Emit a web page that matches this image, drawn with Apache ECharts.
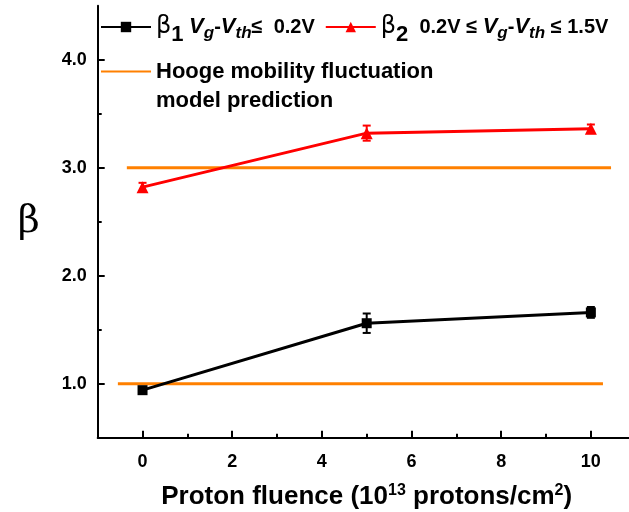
<!DOCTYPE html>
<html>
<head>
<meta charset="utf-8">
<script src="https://cdn.jsdelivr.net/npm/echarts@6/dist/echarts.min.js"></script>
<style>
  html, body { margin: 0; padding: 0; background: #fff; }
  #chart { width: 629px; height: 512px; }
</style>
</head>
<body>
<div id="chart"></div>
<script>
// proton fluence, 10^13 protons/cm^2
const fluence = [0, 5, 10];
// beta1: Vg-Vth <= 0.2V
const beta1 = [0.94, 1.56, 1.66];
const beta1Err = [0.02, 0.09, 0.05];
// beta2: 0.2V <= Vg-Vth <= 1.5V
const beta2 = [2.82, 3.32, 3.36];
const beta2Err = [0.04, 0.07, 0.04];
// Hooge mobility fluctuation model prediction (level, from, to)
const hoogeLow = [1.0, -0.55, 10.27];
const hoogeHigh = [3.0, -0.35, 10.45];
const yTicks = [1, 2, 3, 4];
const yMinorTicks = [1.5, 2.5, 3.5];
const xTicks = [0, 2, 4, 6, 8, 10];
const xMinorTicks = [1, 3, 5, 7, 9];

const font = 'Liberation Sans';
const chart = echarts.init(document.getElementById('chart'));

function pairs(xs, ys) {
  return xs.map((x, i) => [x, ys[i]]);
}
function errData(xs, ys, es) {
  return xs.map((x, i) => [x, ys[i] - es[i], ys[i] + es[i]]);
}
function errBars(color) {
  return function(params, api) {
    const lo = api.coord([api.value(0), api.value(1)]);
    const hi = api.coord([api.value(0), api.value(2)]);
    const w = 4;
    const style = { stroke: color, lineWidth: 2 };
    return {
      type: 'group',
      children: [
        { type: 'line', shape: { x1: lo[0], y1: lo[1], x2: hi[0], y2: hi[1] }, style: style },
        { type: 'line', shape: { x1: lo[0] - w, y1: lo[1], x2: lo[0] + w, y2: lo[1] }, style: style },
        { type: 'line', shape: { x1: hi[0] - w, y1: hi[1], x2: hi[0] + w, y2: hi[1] }, style: style }
      ]
    };
  };
}

const legendRich = {
  g: { fontFamily: 'DejaVu Sans', fontSize: 24, fontWeight: 'normal', color: '#000' },
  s: { fontFamily: font, fontSize: 22, fontWeight: 'bold', color: '#000', padding: [16, 0, 0, 0] },
  i: { fontFamily: font, fontSize: 22, fontWeight: 'bold', fontStyle: 'italic', color: '#000' },
  is: { fontFamily: font, fontSize: 17, fontWeight: 'bold', fontStyle: 'italic', color: '#000', padding: [12, 0, 0, 0] },
  b: { fontFamily: font, fontSize: 20, fontWeight: 'bold', color: '#000' }
};
const legendText = {
  b1: '{g|β}{s|1} {i|V}{is|g}{b|-}{i|V}{is|th}{b|≤  0.2V}',
  b2: '{g|β}{s|2}  {b|0.2V ≤ }{i|V}{is|g}{b|-}{i|V}{is|th}{b| ≤ 1.5V}',
  hooge: '\nHooge mobility fluctuation\nmodel prediction'
};

chart.setOption({
  animation: false,
  backgroundColor: '#fff',
  grid: { left: 97.7, top: 5.7, bottom: 74.3, right: -6.7, outerBoundsMode: 'none' },
  legend: [
    {
      data: ['b1', 'b2'],
      left: 100, top: 15, padding: 0,
      itemWidth: 50, itemHeight: 13, itemGap: 10,
      formatter: n => legendText[n],
      textStyle: { fontFamily: font, fontSize: 20, fontWeight: 'bold', color: '#000', rich: legendRich }
    },
    {
      data: ['hooge'],
      left: 100, top: 28, padding: 0,
      itemWidth: 50, itemHeight: 12,
      itemStyle: { color: 'rgba(0,0,0,0)', borderWidth: 0 },
      formatter: n => legendText[n],
      textStyle: { fontFamily: font, fontSize: 22, fontWeight: 'bold', color: '#000', lineHeight: 29 }
    }
  ],
  xAxis: [
    {
      type: 'value', min: -1, max: 11,
      name: 'Proton fluence (10{sup|13} protons/cm{sup|2})',
      nameLocation: 'middle', nameGap: 45,
      nameTextStyle: {
        fontFamily: font, fontSize: 26, fontWeight: 'bold', color: '#000',
        rich: { sup: { fontFamily: font, fontSize: 16, fontWeight: 'bold', color: '#000', padding: [0, 0, 13, 0] } }
      },
      axisLine: { onZero: false, lineStyle: { color: '#000', width: 2 } },
      axisTick: { customValues: xTicks, inside: true, length: 7, lineStyle: { color: '#000', width: 2 } },
      axisLabel: { customValues: xTicks, margin: 15, fontFamily: font, fontSize: 18, fontWeight: 'bold', color: '#000' },
      splitLine: { show: false }
    },
    {
      type: 'value', min: -1, max: 11, position: 'bottom',
      axisLine: { show: false, onZero: false },
      axisTick: { customValues: xMinorTicks, inside: true, length: 4, lineStyle: { color: '#000', width: 2 } },
      axisLabel: { show: false },
      splitLine: { show: false }
    }
  ],
  yAxis: [
    {
      type: 'value', min: 0.5, max: 4.5,
      name: 'β', nameLocation: 'middle', nameGap: 58, nameRotate: 0,
      nameTextStyle: { fontFamily: 'DejaVu Serif', fontSize: 38, color: '#000' },
      axisLine: { show: true, onZero: false, lineStyle: { color: '#000', width: 2 } },
      axisTick: { show: true, customValues: yTicks, inside: true, length: 7, lineStyle: { color: '#000', width: 2 } },
      axisLabel: {
        customValues: yTicks, margin: 11,
        formatter: v => v.toFixed(1),
        fontFamily: font, fontSize: 18, fontWeight: 'bold', color: '#000'
      },
      splitLine: { show: false }
    },
    {
      type: 'value', min: 0.5, max: 4.5, position: 'left',
      axisLine: { show: false, onZero: false },
      axisTick: { show: true, customValues: yMinorTicks, inside: true, length: 4, lineStyle: { color: '#000', width: 2 } },
      axisLabel: { show: false },
      splitLine: { show: false }
    }
  ],
  series: [
    {
      name: 'hooge', type: 'line', symbol: 'none', color: '#ff8000',
      lineStyle: { width: 3, color: '#ff8000' },
      data: [[hoogeLow[1], hoogeLow[0]], [hoogeLow[2], hoogeLow[0]]]
    },
    {
      name: 'hooge', type: 'line', symbol: 'none', color: '#ff8000',
      lineStyle: { width: 3, color: '#ff8000' },
      data: [[hoogeHigh[1], hoogeHigh[0]], [hoogeHigh[2], hoogeHigh[0]]]
    },
    {
      name: 'b1', type: 'line', color: '#000',
      symbol: 'rect', symbolSize: 10,
      lineStyle: { width: 3, color: '#000' },
      itemStyle: { color: '#000' },
      data: pairs(fluence, beta1), z: 3
    },
    {
      name: 'b2', type: 'line', color: '#ff0000',
      symbol: 'triangle', symbolSize: 12,
      lineStyle: { width: 3, color: '#ff0000' },
      itemStyle: { color: '#ff0000' },
      data: pairs(fluence, beta2), z: 3
    },
    {
      name: 'b1err', type: 'custom', renderItem: errBars('#000'),
      data: errData(fluence, beta1, beta1Err), z: 4
    },
    {
      name: 'b2err', type: 'custom', renderItem: errBars('#ff0000'),
      data: errData(fluence, beta2, beta2Err), z: 4
    }
  ]
});
</script>
</body>
</html>
